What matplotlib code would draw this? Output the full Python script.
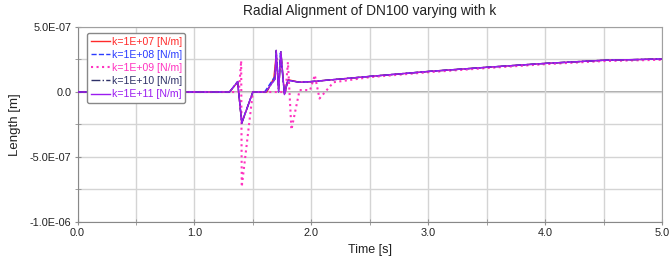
import matplotlib
matplotlib.use("Agg")
import matplotlib.pyplot as plt
from matplotlib.ticker import MultipleLocator, FuncFormatter

plt.rcParams['font.family'] = ['Liberation Sans', 'DejaVu Sans']

labels = ["k=1E+07 [N/m]", "k=1E+08 [N/m]", "k=1E+09 [N/m]", "k=1E+10 [N/m]", "k=1E+11 [N/m]"]
colors = ["#ff2a2a", "#2a3cff", "#ff33c0", "#2e3168", "#9b1cf0"]
styles = ["-", "--", ":", "-.", "-"]

tail_t = [2.0, 2.5, 3.0, 3.5, 4.0, 4.5, 5.0]
tail_v = [8.0e-8, 1.2e-7, 1.58e-7, 1.9e-7, 2.2e-7, 2.44e-7, 2.54e-7]

t_k7 = [0, 1.30, 1.37, 1.405, 1.50, 1.62, 1.68, 1.70, 1.72, 1.74, 1.77, 1.80, 1.90] + tail_t
v_k7 = [0, 0, 7.5e-8, -2.4e-7, 0, 0, 1.1e-7, 2.9e-7, 0.2e-7, 3.0e-7, -1.5e-8, 9.5e-8, 7.5e-8] + tail_v

t_k8 = [0, 1.30, 1.37, 1.405, 1.50, 1.60, 1.69, 1.70, 1.72, 1.735, 1.77, 1.80, 1.90] + tail_t
v_k8 = [0, 0, 8e-8, -2.35e-7, 0, 0, 1.2e-7, 3.0e-7, 0.5e-7, 3.0e-7, -1e-8, 9e-8, 7.5e-8] + tail_v

t_k9 = [0, 1.38, 1.40, 1.405, 1.50, 1.78, 1.80, 1.83, 1.90, 1.99, 2.03, 2.07, 2.19, 2.5, 3.0, 3.5, 4.0, 4.5, 5.0]
v_k9 = [0, 0, 2.4e-7, -7.3e-7, 0, 0, 2.3e-7, -2.9e-7, 1.5e-8, 1.5e-8, 1.3e-7, -5e-8, 7.5e-8,
        1.14e-7, 1.52e-7, 1.84e-7, 2.14e-7, 2.38e-7, 2.48e-7]

t_k10 = [0, 1.30, 1.37, 1.405, 1.50, 1.61, 1.69, 1.70, 1.72, 1.74, 1.77, 1.80, 1.90] + tail_t
v_k10 = [0, 0, 8e-8, -2.4e-7, 0, 0, 1.0e-7, 3.2e-7, 0, 3.1e-7, -2e-8, 9e-8, 7.5e-8] + tail_v

t_k11 = [0, 1.30, 1.37, 1.405, 1.50, 1.61, 1.69, 1.70, 1.72, 1.74, 1.77, 1.80, 1.90] + tail_t
v_k11 = [0, 0, 8e-8, -2.4e-7, 0, 0, 1.0e-7, 3.2e-7, 0, 3.1e-7, -2e-8, 9e-8, 7.5e-8] + tail_v

series_t = [t_k7, t_k8, t_k9, t_k10, t_k11]
series_v = [v_k7, v_k8, v_k9, v_k10, v_k11]

fig = plt.figure(figsize=(6.7, 2.68), dpi=100)
ax = fig.add_axes([77.5/670, 1-222/268, (662-77.5)/670, (222-27)/268])

ax.set_xlim(0, 5)
ax.set_ylim(-1e-6, 5e-7)
ax.xaxis.set_major_locator(MultipleLocator(1.0))
ax.xaxis.set_minor_locator(MultipleLocator(0.5))
ax.yaxis.set_major_locator(MultipleLocator(5e-7))
ax.yaxis.set_minor_locator(MultipleLocator(2.5e-7))
ax.grid(True, which='both', color='#d4d4d4', linewidth=1.0, zorder=0)
ax.axhline(0, color='#9a9a9a', linewidth=1.2, zorder=1)

def yfmt(v, pos):
    if abs(v) < 1e-12:
        return "0.0"
    return "%.1E" % v
ax.yaxis.set_major_formatter(FuncFormatter(yfmt))
ax.xaxis.set_major_formatter(FuncFormatter(lambda v, p: "%.1f" % v))

for sp in ax.spines.values():
    sp.set_color('#a0a0a0')
ax.spines['left'].set_color('#888888')
ax.spines['bottom'].set_color('#888888')
ax.tick_params(which='both', direction='inout', colors='#909090', labelcolor='#222222', labelsize=7.8)
ax.tick_params(which='major', length=5, pad=2)
ax.tick_params(which='minor', length=4)

lw = [1.0, 1.0, 1.5, 1.0, 1.0]
handles = []
for tt, vv, c, s, lab, w in zip(series_t, series_v, colors, styles, labels, lw):
    h, = ax.plot(tt, vv, color=c, linestyle=s, linewidth=w, label=lab, zorder=3)
    handles.append(h)

leg = ax.legend(handles=handles, loc='upper left', bbox_to_anchor=(0.016, 0.97), fontsize=7.6,
                frameon=True, fancybox=True, edgecolor='#888888', framealpha=1.0,
                handlelength=1.8, handletextpad=0.2, labelspacing=0.3, borderpad=0.35,
                borderaxespad=0.0)
leg.get_frame().set_linewidth(1.0)
for txt, c in zip(leg.get_texts(), colors):
    txt.set_color(c)

ax.set_title("Radial Alignment of DN100 varying with k", fontsize=9.9, color='#222222', pad=9)
ax.set_xlabel("Time [s]", fontsize=9, color='#222222', labelpad=4)
ax.set_ylabel("Length [m]", fontsize=9.5, color='#222222', labelpad=6)

fig.savefig("out.png", dpi=100)
